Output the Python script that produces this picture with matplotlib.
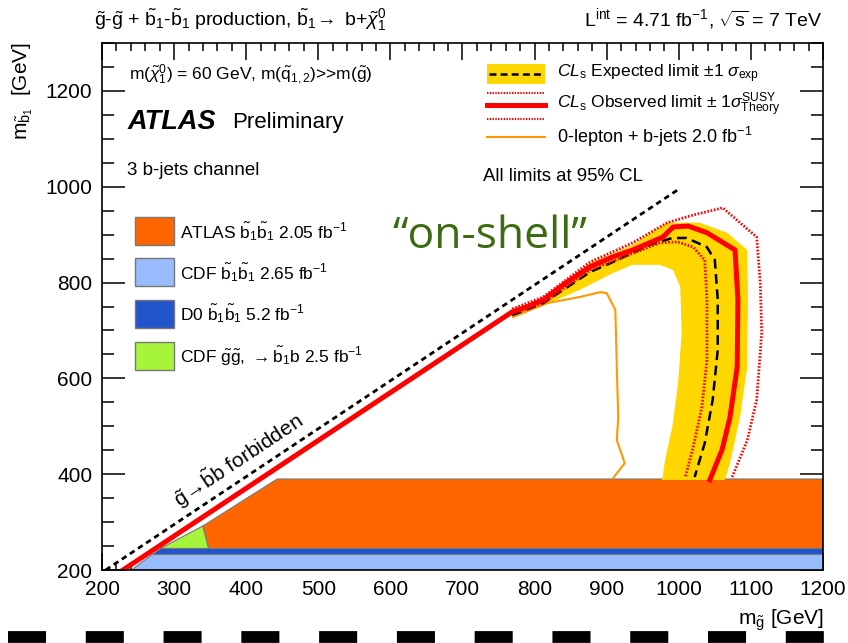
import numpy as np
import matplotlib
matplotlib.use('Agg')
import matplotlib.pyplot as plt
from matplotlib.patches import Rectangle, Polygon
from matplotlib.lines import Line2D
from matplotlib.ticker import MultipleLocator
import matplotlib as mpl

mpl.rcParams['font.family'] = ['Liberation Sans', 'DejaVu Sans']
mpl.rcParams['mathtext.fontset'] = 'custom'
mpl.rcParams['mathtext.rm'] = 'Liberation Sans'
mpl.rcParams['mathtext.it'] = 'Liberation Sans:italic'
mpl.rcParams['mathtext.bf'] = 'Liberation Sans:bold'
mpl.rcParams['lines.scale_dashes'] = False

# --- limit contours, (m_gluino, m_sbottom) in GeV ---
obs_mg = [229, 769, 789, 812, 845, 877, 909, 936, 978, 992, 1013, 1039, 1078,
          1082, 1081, 1071, 1060, 1043]
obs_mb = [200, 739, 749, 764, 801, 833, 854, 868, 895, 916, 918, 904, 868,
          764, 624, 519, 451, 388]

obs_up_mg = [769, 812, 877, 936, 984, 1020, 1061, 1108, 1113, 1115, 1108, 1095, 1074]
obs_up_mb = [745, 770, 843, 883, 925, 941, 956, 895, 799, 695, 555, 471, 394]

obs_dn_mg = [769, 812, 877, 974, 998, 1020, 1036, 1039, 1039, 1032, 1020, 1009]
obs_dn_mb = [735, 757, 826, 883, 885, 874, 847, 764, 638, 540, 457, 394]

exp_mg = [769, 812, 877, 909, 960, 991, 1011, 1039, 1050, 1054, 1054, 1047, 1036, 1022]
exp_mb = [732, 757, 822, 843, 879, 893, 893, 874, 847, 764, 659, 555, 465, 394]

# +-1 sigma expected band: outer edge then inner edge (closed polygon)
band_mg = [769, 812, 877, 936, 984, 1029, 1067, 1095, 1096, 1095, 1085, 1071, 1064,
           977, 981, 991, 999, 1004, 1002, 992, 974, 936, 909, 863, 808, 769]
band_mb = [743, 768, 841, 879, 925, 925, 904, 868, 764, 624, 519, 423, 388,
           388, 430, 499, 590, 695, 791, 826, 837, 837, 820, 785, 749, 726]

lep0_mg = [770, 817, 863, 891, 900, 912, 914, 916, 914, 925, 909]
lep0_mb = [728, 757, 770, 780, 778, 743, 624, 519, 471, 423, 392]

kin_mg = [205, 1000]
kin_mb = [200, 995]

# --- previous exclusions ---
atlas_mg = [348, 340, 443, 1200, 1200]
atlas_mb = [245, 292, 390, 390, 245]
cdf_gg_mg = [281, 340, 348]
cdf_gg_mb = [245, 292, 245]
d0_mg = [270, 1200, 1200, 281]
d0_mb = [233, 233, 245, 245]
cdf_bb_mg = [241, 270, 1200, 1200]
cdf_bb_mb = [200, 233, 233, 200]

fig = plt.figure(figsize=(8.48, 6.43), dpi=100)
ax = fig.add_axes([0.1203, 0.1135, 0.8502, 0.8196])
ax.set_xlim(200, 1200)
ax.set_ylim(200, 1300)

edge = '#777777'
ax.add_patch(Polygon(np.column_stack([cdf_bb_mg, cdf_bb_mb]), closed=True,
                     fc='#99bbff', ec=edge, lw=0.8, zorder=2))
ax.add_patch(Polygon(np.column_stack([d0_mg, d0_mb]), closed=True,
                     fc='#2255cc', ec=edge, lw=0.8, zorder=2))
ax.add_patch(Polygon(np.column_stack([cdf_gg_mg, cdf_gg_mb]), closed=True,
                     fc='#a6f53a', ec=edge, lw=0.8, zorder=2))
ax.add_patch(Polygon(np.column_stack([atlas_mg, atlas_mb]), closed=True,
                     fc='#ff6600', ec=edge, lw=0.8, zorder=2))

ax.fill(band_mg, band_mb, color='#ffd700', lw=0, zorder=3)
ax.plot(kin_mg, kin_mb, color='black', lw=2, dashes=(4, 3), zorder=4)
ax.plot(lep0_mg, lep0_mb, color='#ff9900', lw=1.5, zorder=4)
ax.plot(exp_mg, exp_mb, color='black', lw=1.8, dashes=(7, 4), zorder=5)
ax.plot(obs_up_mg, obs_up_mb, color='red', lw=2, dashes=(1.2, 1.2), zorder=5)
ax.plot(obs_dn_mg, obs_dn_mb, color='red', lw=2, dashes=(1.2, 1.2), zorder=5)
ax.plot(obs_mg, obs_mb, color='red', lw=3.6, zorder=6)

# axes style (ROOT like)
ax.xaxis.set_major_locator(MultipleLocator(100))
ax.xaxis.set_minor_locator(MultipleLocator(20))
ax.yaxis.set_major_locator(MultipleLocator(200))
ax.yaxis.set_minor_locator(MultipleLocator(50))
ax.tick_params(which='both', direction='in', top=True, right=True, width=1.1,
               labelsize=15, zorder=10)
ax.tick_params(axis='x', which='major', length=12, pad=7)
ax.tick_params(axis='x', which='minor', length=6)
ax.tick_params(axis='y', which='major', length=16.5, pad=7)
ax.tick_params(axis='y', which='minor', length=8.5)
for s in ax.spines.values():
    s.set_linewidth(1.2)
    s.set_zorder(10)

fig.text(0.972, 0.036, r'm$_{\mathrm{\tilde{g}}}$ [GeV]', ha='right', va='center', fontsize=15)
fig.text(0.027, 0.935, r'm$_{\mathrm{\tilde{b}_1}}$  [GeV]', ha='center', va='top',
         rotation=90, fontsize=15)

fig.text(0.111, 0.970, r'$\mathrm{\tilde{g}}$-$\mathrm{\tilde{g}}$ + $\mathrm{\tilde{b}}_1$-$\mathrm{\tilde{b}}_1$'
         r' production, $\mathrm{\tilde{b}}_1\!\rightarrow$ b+$\tilde{\chi}_1^0$',
         ha='left', va='center', fontsize=14)
fig.text(0.9705, 0.970, r'L$^{\mathrm{int}}$ = 4.71 fb$^{-1}$, $\sqrt{\mathrm{s}}$ = 7 TeV',
         ha='right', va='center', fontsize=14)

T = ax.transAxes
ax.text(0.038, 0.939, r'm($\tilde{\chi}_1^0$) = 60 GeV, m($\mathrm{\tilde{q}}_{1,2}$)>>m($\mathrm{\tilde{g}}$)',
        transform=T, ha='left', va='center', fontsize=12.5)
ax.text(0.036, 0.850, 'ATLAS', transform=T, ha='left', va='center', fontsize=19.5,
        fontweight='bold', fontstyle='italic')
ax.text(0.180, 0.850, 'Preliminary', transform=T, ha='left', va='center', fontsize=16)
ax.text(0.035, 0.759, '3 b-jets channel', transform=T, ha='left', va='center', fontsize=13.5)

# right legend
ax.add_patch(Rectangle((0.534, 0.922), 0.080, 0.038, transform=T, fc='#ffd700', ec='none', zorder=8))
ax.add_line(Line2D([0.537, 0.611], [0.941, 0.941], transform=T, color='black', lw=1.8,
                   dashes=(5, 3), zorder=9))
ax.add_line(Line2D([0.534, 0.614], [0.905, 0.905], transform=T, color='red', lw=1.5,
                   dashes=(1, 1), zorder=9))
ax.add_line(Line2D([0.534, 0.614], [0.882, 0.882], transform=T, color='red', lw=3.6, zorder=9))
ax.add_line(Line2D([0.534, 0.614], [0.856, 0.856], transform=T, color='red', lw=1.5,
                   dashes=(1, 1), zorder=9))
ax.add_line(Line2D([0.534, 0.614], [0.822, 0.822], transform=T, color='#ff9900', lw=1.5, zorder=9))
ax.text(0.631, 0.941, r'$CL_{\mathrm{s}}$ Expected limit $\pm$1 $\sigma_{\mathrm{exp}}$',
        transform=T, ha='left', va='center', fontsize=12.5)
ax.text(0.631, 0.882, r'$CL_{\mathrm{s}}$ Observed limit $\pm$ 1$\sigma^{\mathrm{SUSY}}_{\mathrm{Theory}}$',
        transform=T, ha='left', va='center', fontsize=12.5)
ax.text(0.631, 0.822, r'0-lepton + b-jets 2.0 fb$^{-1}$', transform=T, ha='left',
        va='center', fontsize=13)
ax.text(0.528, 0.746, 'All limits at 95% CL', transform=T, ha='left', va='center', fontsize=13.4)

# left legend
leg_col = ['#ff6600', '#99bbff', '#2255cc', '#a6f53a']
leg_txt = [r'ATLAS $\mathrm{\tilde{b}_1\tilde{b}_1}$ 2.05 fb$^{-1}$',
           r'CDF $\mathrm{\tilde{b}_1\tilde{b}_1}$ 2.65 fb$^{-1}$',
           r'D0 $\mathrm{\tilde{b}_1\tilde{b}_1}$ 5.2 fb$^{-1}$',
           r'CDF $\mathrm{\tilde{g}\tilde{g}}$, $\rightarrow\mathrm{\tilde{b}_1}$b 2.5 fb$^{-1}$']
leg_y = [0.643, 0.565, 0.486, 0.406]
for c, t, yy in zip(leg_col, leg_txt, leg_y):
    ax.add_patch(Rectangle((0.046, yy - 0.0265), 0.054, 0.053, transform=T, fc=c,
                           ec=edge, lw=1, zorder=8))
    ax.text(0.108, yy, t, transform=T, ha='left', va='center', fontsize=12.5)

ax.text(388, 430, r'$\mathrm{\tilde{g}}\!\rightarrow\!\mathrm{\tilde{b}}$b forbidden', ha='center',
        va='center', rotation=33.6, fontsize=15, zorder=9)

ax.text(0.538, 0.611, '\u201con-shell\u201d', transform=T, ha='center', va='baseline',
        fontsize=32, color='#3d6b12', family=['Open Sans', 'DejaVu Sans'], zorder=9)

# slide footer dashes
fig.add_artist(Line2D([8 / 848, 1.0], [0.009, 0.009], transform=fig.transFigure,
                      color='black', lw=8.5, dashes=(27.4, 28.6)))

fig.savefig('out.png', dpi=100)
